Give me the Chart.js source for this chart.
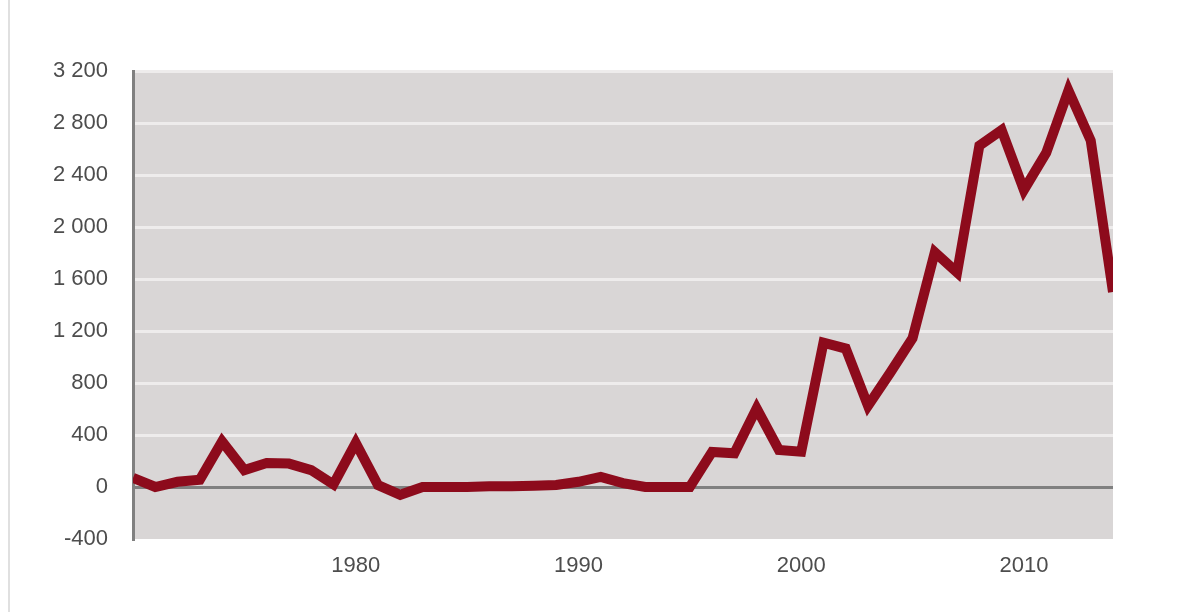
<!DOCTYPE html>
<html>
<head>
<meta charset="utf-8">
<script src="https://cdn.jsdelivr.net/npm/chart.js@4.4.1/dist/chart.umd.min.js"></script>
<style>
  html, body { margin: 0; padding: 0; background: #fff; }
  #wrap { position: relative; width: 1198px; height: 612px; }
  #edge { position: absolute; left: 8px; top: 0; width: 2px; height: 612px; background: #e0e0e0; }
</style>
</head>
<body>
<div id="wrap">
  <div id="edge"></div>
  <canvas id="lineCanvas" width="1198" height="612"></canvas>
</div>
<script>
// années
const years = [1970, 1971, 1972, 1973, 1974, 1975, 1976, 1977, 1978, 1979,
  1980, 1981, 1982, 1983, 1984, 1985, 1986, 1987, 1988, 1989,
  1990, 1991, 1992, 1993, 1994, 1995, 1996, 1997, 1998, 1999,
  2000, 2001, 2002, 2003, 2004, 2005, 2006, 2007, 2008, 2009,
  2010, 2011, 2012, 2013, 2014];

// valeurs
const values = [70, 0, 40, 55, 350, 130, 185, 180, 130, 20,
  340, 15, -60, 0, 0, 0, 5, 5, 10, 15,
  40, 78, 30, 0, 0, 0, 270, 260, 605, 285,
  272, 1110, 1065, 625, 880, 1145, 1805, 1650, 2625, 2745,
  2285, 2570, 3050, 2665, 1500];

// graduations
const xTicks = [1980, 1990, 2000, 2010];
const yMin = -400;
const yMax = 3200;
const yStep = 400;

// fond gris de la zone de tracé
const plotBackground = {
  id: "plotBackground",
  beforeDraw(chart) {
    const a = chart.chartArea;
    const ctx = chart.ctx;
    ctx.save();
    ctx.fillStyle = "#d9d6d6";
    ctx.fillRect(a.left, a.top, a.right - a.left, a.bottom - a.top);
    ctx.restore();
  }
};

const lineCanvas = document.getElementById("lineCanvas");

const lineChart = new Chart(lineCanvas, {
  type: "line",
  data: {
    datasets: [{
      data: years.map((y, i) => ({ x: y, y: values[i] })),
      borderColor: "#8d0b1c",
      borderWidth: 10,
      pointRadius: 0,
      fill: false,
      tension: 0,
    }],
  },
  options: {
    responsive: false,
    animation: false,
    layout: {
      padding: { left: 0, right: 85, top: 71, bottom: 0 }
    },
    plugins: {
      legend: { display: false },
      tooltip: { enabled: false },
    },
    scales: {
      x: {
        type: "linear",
        min: 1970,
        max: 2014,
        afterBuildTicks: (scale) => {
          scale.ticks = xTicks.map(v => ({ value: v }));
        },
        afterFit: (scale) => { scale.height = 73; },
        grid: { display: false, drawTicks: false },
        border: { display: false },
        ticks: {
          color: "#4d4d4d",
          padding: 14,
          maxRotation: 0,
          font: { family: "Liberation Sans, Arial", size: 22 },
          callback: (v) => String(v),
        }
      },
      y: {
        min: yMin,
        max: yMax,
        afterFit: (scale) => { scale.width = 133; },
        grid: {
          drawTicks: false,
          lineWidth: (c) => (c.tick && c.tick.value === 0 ? 3 : 3),
          color: (c) => {
            if (!c.tick) return "transparent";
            if (c.tick.value === 0) return "#808080";
            if (c.tick.value === yMin) return "transparent";
            return "#eeecec";
          },
        },
        border: { display: true, color: "#808080", width: 3 },
        ticks: {
          stepSize: yStep,
          color: "#4d4d4d",
          padding: 25,
          font: { family: "Liberation Sans, Arial", size: 22 },
          callback: (v) => String(v).replace(/\B(?=(\d{3})+(?!\d))/g, " "),
        }
      }
    }
  },
  plugins: [plotBackground]
});
</script>
</body>
</html>
